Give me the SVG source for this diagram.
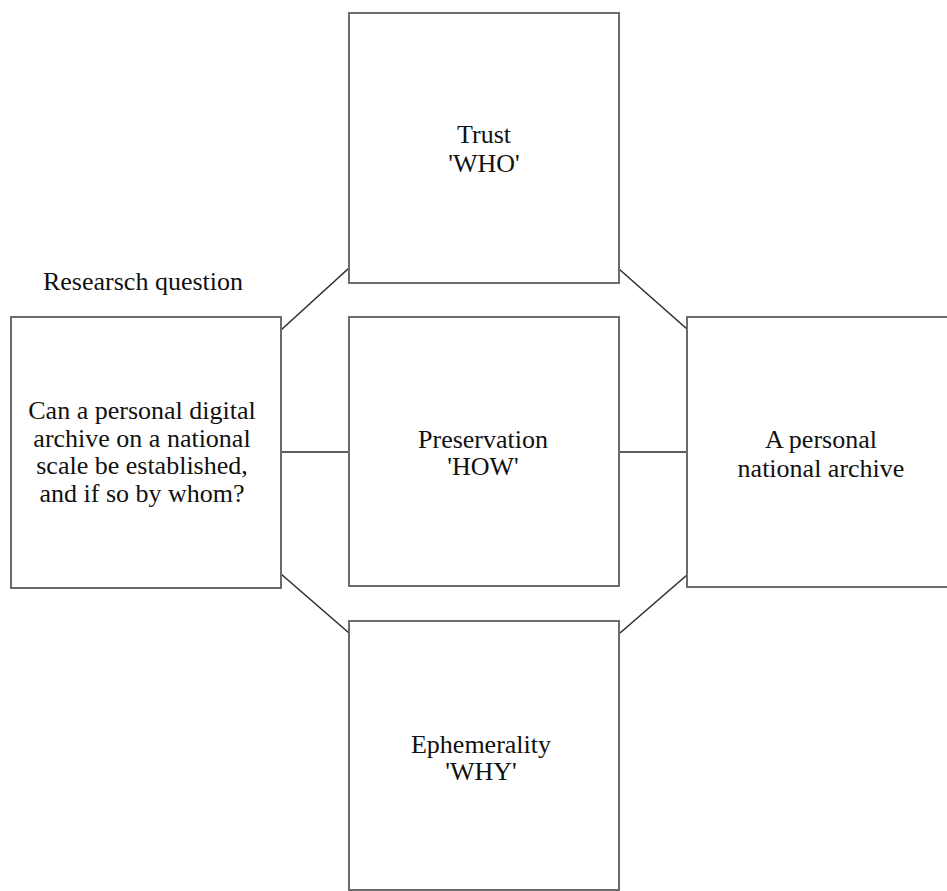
<svg xmlns="http://www.w3.org/2000/svg" width="947" height="891" viewBox="0 0 947 891">
  <style>
    .box { fill: #ffffff; stroke: #6b6b6b; stroke-width: 2; }
    .link { stroke: #2a2a2a; stroke-width: 1.5; fill: none; }
    .label { font-family: 'Liberation Serif', 'Times New Roman', serif; font-size: 26px; fill: #111111; text-anchor: middle; }
  </style>
  <rect width="947" height="891" fill="#ffffff"/>

  <!-- connectors between the outer boxes and the centre -->
  <g id="connectors">
    <line class="link" x1="281" y1="330" x2="349" y2="268"/>
    <line class="link" x1="619" y1="269" x2="687" y2="329"/>
    <line class="link" x1="687" y1="575" x2="620" y2="633"/>
    <line class="link" x1="281" y1="574" x2="349" y2="633"/>
    <line class="link" x1="281" y1="452" x2="349" y2="452"/>
    <line class="link" x1="619" y1="452" x2="687" y2="452"/>
  </g>

  <g id="question-heading">
    <text class="label" x="143" y="290">Researsch question</text>
  </g>

  <g id="question">
    <rect class="box" x="11" y="317" width="270" height="271"/>
    <text class="label" x="142" y="419">Can a personal digital</text>
    <text class="label" x="142" y="447">archive on a national</text>
    <text class="label" x="142" y="474">scale be established,</text>
    <text class="label" x="142" y="502">and if so by whom?</text>
  </g>

  <g id="trust">
    <rect class="box" x="349" y="13" width="270" height="270"/>
    <text class="label" x="484" y="143">Trust</text>
    <text class="label" x="484" y="172">'WHO'</text>
  </g>

  <g id="preservation">
    <rect class="box" x="349" y="317" width="270" height="269"/>
    <text class="label" x="483" y="448">Preservation</text>
    <text class="label" x="483" y="475">'HOW'</text>
  </g>

  <g id="archive">
    <rect class="box" x="687" y="317" width="280" height="270"/>
    <text class="label" x="821" y="448">A personal</text>
    <text class="label" x="821" y="477">national archive</text>
  </g>

  <g id="ephemerality">
    <rect class="box" x="349" y="621" width="270" height="269"/>
    <text class="label" x="481" y="753">Ephemerality</text>
    <text class="label" x="481" y="780">'WHY'</text>
  </g>
</svg>
